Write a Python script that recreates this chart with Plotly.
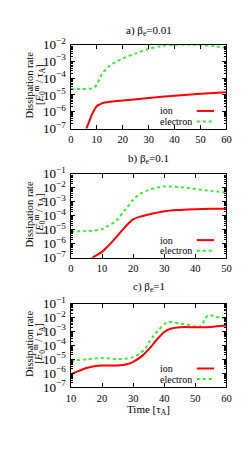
import plotly.graph_objects as go

# ---------------- data ----------------
# Panel a) beta_e = 0.01
t_a_ion = [5.5, 6, 7, 8, 9, 10, 11, 12, 14, 16, 20, 30, 40, 50, 60]
ion_a = [5e-8, 1e-7, 2.5e-7, 6.3e-7, 1.26e-6, 2.2e-6, 2.65e-6, 3.2e-6, 3.7e-6, 4.1e-6, 4.7e-6, 6.6e-6, 9.1e-6, 1.17e-5, 1.45e-5]
t_a_el = [0, 4, 8, 9, 10, 11, 12, 14, 16, 20, 25, 30, 35, 40, 45, 50, 55, 60]
el_a = [2.3e-5, 2.3e-5, 2.4e-5, 2.8e-5, 4.2e-5, 8.9e-5, 1.8e-4, 4.0e-4, 7.1e-4, 1.5e-3, 3.0e-3, 5.6e-3, 8.3e-3, 1.0e-2, 1.0e-2, 9.3e-3, 8.3e-3, 6.3e-3]

# Panel b) beta_e = 0.1
t_b_ion = [6.5, 7, 10, 12, 15, 18, 20, 22, 25, 30, 35, 40, 45, 50]
ion_b = [7e-8, 1e-7, 2.6e-7, 7e-7, 3.8e-6, 2.2e-5, 5.5e-5, 8.3e-5, 1.23e-4, 2.1e-4, 2.6e-4, 2.95e-4, 3.1e-4, 3.1e-4]
t_b_el = [0, 5, 10, 12, 14, 15, 17, 18, 20, 22, 25, 28, 30, 32, 35, 40, 45, 50]
el_b = [7.6e-6, 8e-6, 1.1e-5, 1.9e-5, 3.5e-5, 5.5e-5, 2e-4, 3.6e-4, 1.4e-3, 3.4e-3, 6.9e-3, 1.07e-2, 1.23e-2, 1.25e-2, 1.12e-2, 8.1e-3, 5.9e-3, 4.5e-3]

# Panel c) beta_e = 1
t_c_ion = [10, 12, 15, 18, 20, 25, 28, 30, 33, 35, 38, 40, 42, 45, 50, 52, 55, 60]
ion_c = [7.9e-7, 1.26e-6, 2.3e-6, 3.2e-6, 3.5e-6, 3.5e-6, 4.3e-6, 6.5e-6, 1.8e-5, 5.1e-5, 3.2e-4, 9.1e-4, 1.55e-3, 2.0e-3, 2.0e-3, 2.0e-3, 2.1e-3, 2.6e-3]
t_c_el = [10, 15, 20, 25, 28, 30, 32, 34, 35, 36.5, 38, 40, 41, 42, 45, 48, 50, 51, 52, 53, 54, 55, 56, 58, 60]
el_c = [7.2e-6, 9.8e-6, 1.2e-5, 1.02e-5, 1.1e-5, 1.4e-5, 2.4e-5, 6.3e-5, 1.5e-4, 4.5e-4, 1.17e-3, 3.3e-3, 4.4e-3, 4.8e-3, 3.7e-3, 2.9e-3, 2.2e-3, 2.0e-3, 2.6e-3, 7.2e-3, 1.38e-2, 1.45e-2, 1.23e-2, 1.0e-2, 8.5e-3]

titles = ["a) β<sub>e</sub>=0.01", "b) β<sub>e</sub>=0.1", "c) β<sub>e</sub>=1"]
x_ranges = [[0, 60], [0, 50], [10, 60]]
y_ranges = [[-7, -2], [-7, -1], [-7, -1]]
series_names = ["ion", "electron"]
ytitle_lines = ["Dissipation rate", "[<i>E</i><sub>0</sub><sup>m</sup> / τ<sub>A</sub>]"]
xtitle = "Time [τ<sub>A</sub>]"

# ---------------- layout helpers ----------------
# The page body has an 8 px margin, so the figure is drawn at (8, 8) in the window.
OFF = 8
W, H = 234, 444
FONT = "Liberation Serif, Times New Roman, serif"
RED = "#ff0000"
GREEN = "#33ee33"

# window-pixel positions
panels_px = [(36.7, 124.0), (171.0, 258.3), (306.0, 392.7)]
x_px = (68.5, 231.0)
title_px = [23, 156, 289]
legend_px = [(105.7, 116.7), (240.0, 251.0), (373.5, 384.5)]
ytitle_x_px = [25.5, 35.5]
xtitle_px = 417

def py(p):
    return 1 - (p - OFF) / H

def px(p):
    return (p - OFF) / W

fig = go.Figure()

data = [
    (t_a_ion, ion_a, t_a_el, el_a),
    (t_b_ion, ion_b, t_b_el, el_b),
    (t_c_ion, ion_c, t_c_el, el_c),
]

annotations = []
shapes = []
for i, (ti, vi, te, ve) in enumerate(data):
    xa = "x" if i == 0 else f"x{i+1}"
    ya = "y" if i == 0 else f"y{i+1}"
    fig.add_trace(go.Scatter(x=te, y=ve, mode="lines", name=series_names[1],
                             line=dict(color=GREEN, width=2, dash="dot", shape="spline", smoothing=0.8),
                             xaxis=xa, yaxis=ya, showlegend=False))
    fig.add_trace(go.Scatter(x=ti, y=vi, mode="lines", name=series_names[0],
                             line=dict(color=RED, width=2, shape="spline", smoothing=0.8),
                             xaxis=xa, yaxis=ya, showlegend=False))
    top, bot = panels_px[i]
    axis_common = dict(showline=True, linecolor="black", linewidth=1, mirror="allticks",
                       ticks="inside", ticklen=4, tickwidth=1, tickcolor="black",
                       showgrid=False, zeroline=False,
                       tickfont=dict(family=FONT, size=10.5, color="black"))
    xkey = "xaxis" if i == 0 else f"xaxis{i+1}"
    ykey = "yaxis" if i == 0 else f"yaxis{i+1}"
    fig.update_layout(**{
        xkey: dict(domain=[px(x_px[0]), px(x_px[1])], range=x_ranges[i], dtick=10,
                   anchor=ya, ticklabelstandoff=1, **axis_common),
        ykey: dict(domain=[py(bot), py(top)], type="log", range=y_ranges[i], dtick=1,
                   exponentformat="power", anchor=xa, ticklabelstandoff=2,
                   minor=dict(ticks="inside", ticklen=2, tickcolor="black", dtick="D1"),
                   **axis_common),
    })
    annotations.append(dict(text=titles[i], xref="paper", yref="paper",
                            x=px((x_px[0] + x_px[1]) / 2), y=py(title_px[i]),
                            xanchor="center", yanchor="middle", showarrow=False,
                            font=dict(family=FONT, size=11, color="black")))
    for k, line in enumerate(ytitle_lines):
        annotations.append(dict(text=line, xref="paper", yref="paper",
                                x=px(ytitle_x_px[k]), y=py((top + bot) / 2 - 2), textangle=-90,
                                xanchor="center", yanchor="middle", showarrow=False,
                                font=dict(family=FONT, size=10.5, color="black")))
    for j, (name, col, dash) in enumerate([(series_names[0], RED, "solid"),
                                            (series_names[1], GREEN, "dot")]):
        yy = py(legend_px[i][j])
        annotations.append(dict(text=name, xref="paper", yref="paper",
                                x=px(159), y=yy, xanchor="left", yanchor="middle",
                                showarrow=False,
                                font=dict(family=FONT, size=10, color="black")))
        shapes.append(dict(type="line", xref="paper", yref="paper",
                           x0=px(200), x1=px(218), y0=yy, y1=yy,
                           line=dict(color=col, width=2, dash=dash)))

annotations.append(dict(text=xtitle, xref="paper", yref="paper",
                        x=px((x_px[0] + x_px[1]) / 2), y=py(xtitle_px),
                        xanchor="center", yanchor="middle", showarrow=False,
                        font=dict(family=FONT, size=11, color="black")))

fig.update_layout(width=W, height=H, margin=dict(l=0, r=0, t=0, b=0),
                  paper_bgcolor="white", plot_bgcolor="white",
                  annotations=annotations, shapes=shapes,
                  font=dict(family=FONT, size=11, color="black"))

fig.write_html("out.html")
